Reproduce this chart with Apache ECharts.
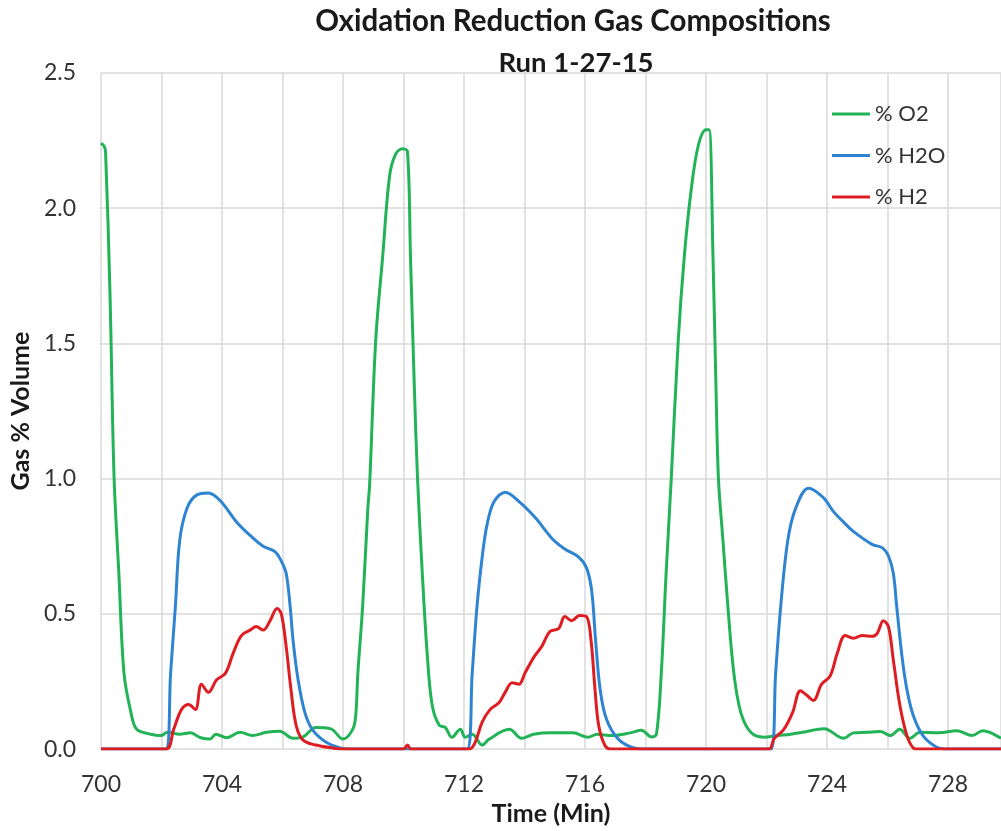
<!DOCTYPE html>
<html>
<head>
<meta charset="utf-8">
<script src="https://cdn.jsdelivr.net/npm/echarts@6/dist/echarts.min.js"></script>
<style>
html,body{margin:0;padding:0;background:#fff;}
#chart{width:1001px;height:831px;}
</style>
</head>
<body>
<div id="chart"></div>
<script>
const titleLine1 = 'Oxidation Reduction Gas Compositions';
const titleLine2 = 'Run 1-27-15';
const seriesNames = ['% O2', '% H2O', '% H2'];

const o2Points = [[700.0,2.24],[700.1,2.23],[700.15,2.21],[700.3,1.67],[700.43,1.01],[700.59,0.65],[700.76,0.28],[700.99,0.135],[701.18,0.073],[701.64,0.055],[701.97,0.05],[702.2,0.062],[702.6,0.055],[702.95,0.06],[703.3,0.042],[703.6,0.037],[703.8,0.055],[704.15,0.042],[704.6,0.062],[705.0,0.05],[705.47,0.062],[705.9,0.066],[706.35,0.04],[706.68,0.045],[707.1,0.08],[707.6,0.075],[708.0,0.037],[708.32,0.073],[708.42,0.124],[708.49,0.28],[708.65,0.53],[708.82,0.89],[708.88,0.98],[709.08,1.51],[709.31,1.82],[709.54,2.12],[709.74,2.20],[709.97,2.22],[710.13,2.21],[710.23,1.82],[710.36,1.33],[710.46,1.01],[710.62,0.65],[710.79,0.34],[710.95,0.16],[711.18,0.088],[711.38,0.08],[711.6,0.044],[711.88,0.073],[712.04,0.044],[712.27,0.055],[712.6,0.015],[712.83,0.037],[713.5,0.073],[713.9,0.04],[714.3,0.055],[714.9,0.06],[715.6,0.06],[716.1,0.044],[716.4,0.055],[716.9,0.05],[717.5,0.06],[717.86,0.07],[718.2,0.045],[718.36,0.055],[718.52,0.28],[718.68,0.65],[718.85,1.0],[719.08,1.51],[719.28,1.82],[719.5,2.06],[719.74,2.23],[720.0,2.29],[720.1,2.29],[720.23,1.82],[720.33,1.33],[720.41,1.0],[720.56,0.77],[720.72,0.53],[720.92,0.28],[721.15,0.135],[721.48,0.062],[721.9,0.044],[722.37,0.05],[722.8,0.055],[723.2,0.062],[723.9,0.075],[724.55,0.04],[724.87,0.06],[725.3,0.062],[725.76,0.065],[726.1,0.05],[726.4,0.073],[726.74,0.04],[727.07,0.062],[727.7,0.06],[728.29,0.068],[728.8,0.05],[729.14,0.068],[729.75,0.04]];

const h2oPoints = [[700,0],[702.14,0],[702.3,0.28],[702.46,0.53],[702.6,0.77],[702.84,0.89],[703.17,0.94],[703.55,0.947],[703.93,0.92],[704.48,0.84],[704.93,0.79],[705.36,0.75],[705.75,0.73],[705.96,0.695],[706.12,0.65],[706.25,0.53],[706.35,0.40],[706.51,0.26],[706.74,0.135],[707.0,0.07],[707.43,0.026],[707.9,0.004],[708.2,0],[712.1,0],[712.27,0.28],[712.43,0.53],[712.6,0.71],[712.76,0.83],[712.99,0.915],[713.36,0.95],[713.82,0.915],[714.36,0.855],[714.9,0.78],[715.33,0.74],[715.79,0.71],[716.05,0.67],[716.22,0.585],[716.35,0.40],[716.5,0.22],[716.71,0.11],[717.1,0.037],[717.63,0.004],[718,0],[722.14,0],[722.3,0.28],[722.47,0.53],[722.7,0.77],[722.96,0.89],[723.39,0.965],[723.88,0.93],[724.2,0.88],[724.54,0.84],[724.87,0.805],[725.49,0.757],[725.82,0.745],[726.03,0.714],[726.19,0.65],[726.3,0.53],[726.48,0.34],[726.64,0.22],[726.85,0.124],[727.17,0.05],[727.63,0.007],[728,0],[729.75,0]];

const h2Points = [[700,0],[702.14,0],[702.4,0.073],[702.66,0.146],[702.9,0.165],[703.12,0.146],[703.32,0.24],[703.55,0.21],[703.82,0.256],[704.11,0.28],[704.37,0.355],[704.64,0.42],[704.93,0.44],[705.13,0.453],[705.36,0.44],[705.59,0.475],[705.82,0.52],[705.96,0.50],[706.12,0.38],[706.28,0.22],[706.45,0.088],[706.68,0.033],[707.1,0.015],[707.66,0.004],[708,0],[710.0,0],[710.13,0.015],[710.25,0],[712.17,0],[712.37,0.026],[712.6,0.1],[712.86,0.146],[713.16,0.172],[713.36,0.21],[713.59,0.245],[713.82,0.24],[714.01,0.28],[714.31,0.34],[714.57,0.38],[714.84,0.435],[715.13,0.446],[715.33,0.49],[715.56,0.475],[715.82,0.494],[716.05,0.49],[716.2,0.40],[716.33,0.22],[716.45,0.088],[716.65,0.015],[716.85,0],[722.07,0],[722.24,0.037],[722.57,0.073],[722.86,0.135],[723.12,0.216],[723.35,0.197],[723.55,0.18],[723.82,0.24],[724.1,0.27],[724.34,0.355],[724.6,0.42],[724.87,0.41],[725.16,0.42],[725.49,0.417],[725.66,0.428],[725.86,0.475],[726.03,0.453],[726.19,0.33],[726.41,0.16],[726.64,0.05],[726.85,0.004],[727,0],[729.75,0]];

const colors = ['#22b357', '#2f84d2', '#de1d22'];
const FONT = 'Lato';

const chart = echarts.init(document.getElementById('chart'), null, {renderer: 'canvas'});

function mkSeries(name, data, color) {
  return {
    name: name, type: 'line', data: data,
    symbol: 'none', showSymbol: false, smooth: 0.35,
    lineStyle: {color: color, width: 3},
    itemStyle: {color: color},
    animation: false
  };
}

chart.setOption({
  animation: false,
  backgroundColor: '#ffffff',
  title: [
    {text: titleLine1, left: 568, top: 1, textAlign: 'center',
     textStyle: {fontFamily: FONT, fontWeight: 'bold', fontSize: 29.5, color: '#1a1a1a'}},
    {text: titleLine2, left: 571, top: 44, textAlign: 'center',
     textStyle: {fontFamily: FONT, fontWeight: 'bold', fontSize: 27.5, color: '#1a1a1a'}}
  ],
  legend: {
    data: seriesNames, orient: 'vertical', left: 832, top: 103, padding: 0,
    icon: 'path://M0,0 L38,0 L38,3 L0,3 Z',
    itemWidth: 38, itemHeight: 20, itemGap: 19.5,
    textStyle: {fontFamily: FONT, fontSize: 22, color: '#333', lineHeight: 20}
  },
  grid: {left: 97, top: 73, right: 0, bottom: 74, containLabel: false},
  xAxis: {
    type: 'value', min: 700, max: 729.75, interval: 2,
    name: 'Time (Min)', nameLocation: 'middle', nameGap: 40,
    nameTextStyle: {fontFamily: FONT, fontWeight: 'bold', fontSize: 25, color: '#1a1a1a'},
    axisLine: {show: false}, axisTick: {show: false},
    axisLabel: {
      fontFamily: FONT, fontSize: 23, color: '#333', margin: 24,
      showMaxLabel: false,
      formatter: function (v) { return (Math.abs(v % 4) < 1e-6) ? String(v) : ''; }
    },
    splitLine: {show: true, lineStyle: {color: '#d9d9d9', width: 1.5}}
  },
  yAxis: {
    type: 'value', min: 0, max: 2.5, interval: 0.5,
    name: 'Gas % Volume', nameLocation: 'middle', nameGap: 62, nameRotate: 90,
    nameTextStyle: {fontFamily: FONT, fontWeight: 'bold', fontSize: 25, color: '#1a1a1a'},
    axisLine: {show: false}, axisTick: {show: false},
    axisLabel: {fontFamily: FONT, fontSize: 23, color: '#333', margin: 25,
      formatter: function (v) { return v.toFixed(1); }},
    splitLine: {show: true, lineStyle: {color: '#d9d9d9', width: 1.5}}
  },
  series: [
    mkSeries(seriesNames[0], o2Points, colors[0]),
    mkSeries(seriesNames[1], h2oPoints, colors[1]),
    mkSeries(seriesNames[2], h2Points, colors[2])
  ]
});
</script>
</body>
</html>
